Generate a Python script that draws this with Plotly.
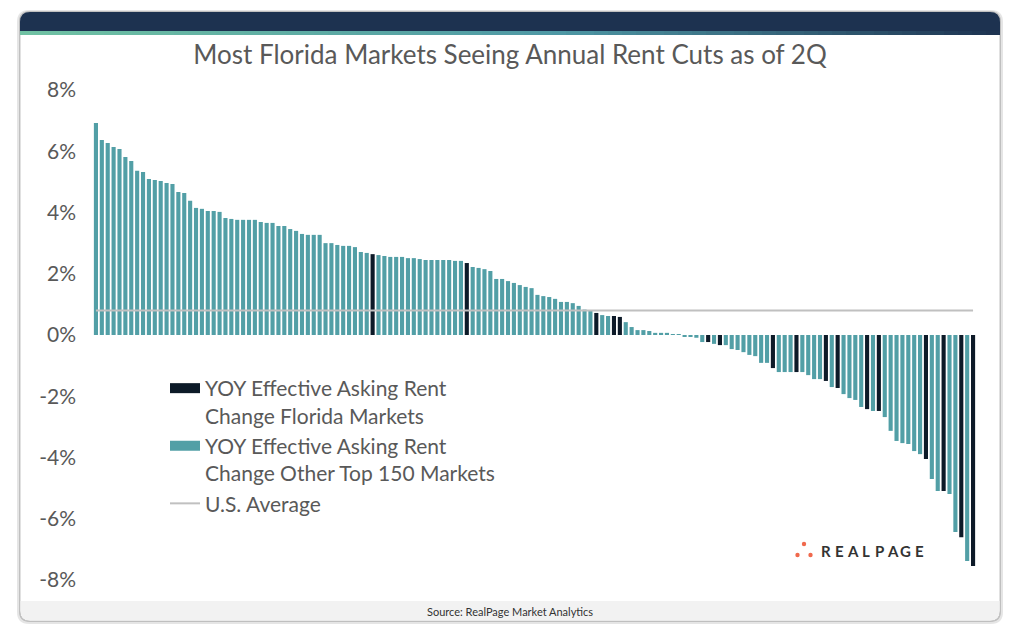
import plotly.graph_objects as go

# ---------------- data ----------------
rent_change = [
    6.92, 6.37, 6.27, 6.14, 6.07, 5.81, 5.68, 5.36, 5.32, 5.09,
    5.06, 5.03, 4.96, 4.93, 4.67, 4.64, 4.38, 4.15, 4.12, 4.05,
    4.05, 4.02, 3.82, 3.79, 3.76, 3.76, 3.76, 3.76, 3.69, 3.66,
    3.66, 3.56, 3.56, 3.46, 3.40, 3.30, 3.27, 3.27, 3.27, 3.00,
    3.00, 2.94, 2.91, 2.91, 2.87, 2.71, 2.68, 2.64, 2.61, 2.58,
    2.55, 2.55, 2.55, 2.51, 2.51, 2.48, 2.45, 2.45, 2.45, 2.45,
    2.45, 2.42, 2.42, 2.35, 2.22, 2.19, 2.15, 2.09, 1.83, 1.83,
    1.76, 1.70, 1.63, 1.57, 1.53, 1.31, 1.27, 1.24, 1.18, 1.08,
    1.08, 1.04, 0.95, 0.83, 0.80, 0.72, 0.65, 0.62, 0.62, 0.59,
    0.42, 0.26, 0.16, 0.16, 0.13, 0.07, 0.07, 0.07, 0.03, 0.03,
    -0.05, -0.05, -0.09, -0.23, -0.23, -0.29, -0.33, -0.33, -0.46, -0.49,
    -0.56, -0.65, -0.69, -0.91, -0.91, -1.08, -1.21, -1.21, -1.21, -1.21,
    -1.21, -1.31, -1.44, -1.44, -1.50, -1.70, -1.73, -1.93, -2.06, -2.12,
    -2.35, -2.42, -2.48, -2.48, -2.68, -3.13, -3.46, -3.53, -3.56, -3.79,
    -3.89, -4.05, -4.70, -5.09, -5.09, -5.19, -6.43, -6.60, -7.38, -7.54,
]
market_rank = list(range(1, len(rent_change) + 1))
florida_ranks = [48, 64, 86, 89, 90, 105, 107, 116, 120, 125, 127, 132, 134, 142, 145, 148, 150]
us_average = 0.8

y_tick_values = [-8, -6, -4, -2, 0, 2, 4, 6, 8]
y_tick_labels = ["-8%", "-6%", "-4%", "-2%", "0%", "2%", "4%", "6%", "8%"]

title_text = "Most Florida Markets Seeing Annual Rent Cuts as of 2Q"
name_florida = "YOY Effective Asking Rent<br>Change Florida Markets"
name_other = "YOY Effective Asking Rent<br>Change Other Top 150 Markets"
name_avg = "U.S. Average"
source_text = "Source: RealPage Market Analytics"
logo_text = "REALPAGE"

# ---------------- styling ----------------
TEAL = "#529fa6"
NAVY = "#0d1a28"
GREY_TXT = "#595959"
FONT = "Lato"

OFF = 8                      # page body margin offset
PAGE_W, PAGE_H = 1020, 633
W, H = PAGE_W - OFF, PAGE_H - OFF
L, R, T, B = 93, 976, 90, 580   # plot area in page pixels


def X(p):
    return (p - L) / (R - L)


def Y(p):
    return (B - p) / (B - T)


def pt(x, y):
    return f"{X(x):.5f},{Y(y):.5f}"


def rounded_path(x0, y0, x1, y1, rt, rb):
    return (
        f"M{pt(x0 + rt, y0)} L{pt(x1 - rt, y0)} Q{pt(x1, y0)} {pt(x1, y0 + rt)} "
        f"L{pt(x1, y1 - rb)} Q{pt(x1, y1)} {pt(x1 - rb, y1)} "
        f"L{pt(x0 + rb, y1)} Q{pt(x0, y1)} {pt(x0, y1 - rb)} "
        f"L{pt(x0, y0 + rt)} Q{pt(x0, y0)} {pt(x0 + rt, y0)} Z"
    )


fl_set = set(florida_ranks)
fl_y = [v if r in fl_set else None for r, v in zip(market_rank, rent_change)]
ot_y = [None if r in fl_set else v for r, v in zip(market_rank, rent_change)]

fig = go.Figure()
fig.add_trace(go.Bar(x=market_rank, y=fl_y, name=name_florida, legendgroup="fl",
                     showlegend=False, marker=dict(color=NAVY, line=dict(width=0))))
fig.add_trace(go.Bar(x=market_rank, y=ot_y, name=name_other, legendgroup="ot",
                     showlegend=False, marker=dict(color=TEAL, line=dict(width=0))))
fig.add_trace(go.Scatter(x=[market_rank[0], market_rank[-1]], y=[us_average, us_average],
                         mode="lines", name=name_avg, showlegend=False, legendgroup="avg",
                         line=dict(color="#c0c0c0", width=2)))
# legend entries (wide swatches like the original)
fig.add_trace(go.Scatter(x=[None], y=[None], mode="lines", name=name_florida,
                         legendgroup="fl", line=dict(color=NAVY, width=10)))
fig.add_trace(go.Scatter(x=[None], y=[None], mode="lines", name=name_other,
                         legendgroup="ot", line=dict(color=TEAL, width=10)))
fig.add_trace(go.Scatter(x=[None], y=[None], mode="lines", name=name_avg,
                         legendgroup="avg", line=dict(color="#c0c0c0", width=2)))

shapes = []
# card shadow + card
shapes.append(dict(type="path", xref="paper", yref="paper", layer="below",
                   path=rounded_path(17, 10, 1003, 624, 12, 12),
                   fillcolor="rgba(0,0,0,0.10)", line=dict(width=0)))
shapes.append(dict(type="path", xref="paper", yref="paper", layer="below",
                   path=rounded_path(19, 11, 1001, 622, 11, 11),
                   fillcolor="rgba(0,0,0,0.18)", line=dict(width=0)))
shapes.append(dict(type="path", xref="paper", yref="paper", layer="below",
                   path=rounded_path(20, 12, 1000, 621, 10, 10),
                   fillcolor="white", line=dict(color="#c4c4c4", width=1)))
# header band
shapes.append(dict(type="path", xref="paper", yref="paper", layer="below",
                   path=rounded_path(20, 12, 1000, 31, 10, 0),
                   fillcolor="#1d3250", line=dict(width=0)))


def lerp(c1, c2, t):
    return tuple(round(a + (b - a) * t) for a, b in zip(c1, c2))


stops = [(0.0, (112, 194, 163)), (0.55, (78, 152, 165)), (1.0, (29, 50, 80))]
nseg = 70
x_start, x_end = 20, 1000
for i in range(nseg):
    t = (i + 0.5) / nseg
    col = stops[-1][1]
    for j in range(len(stops) - 1):
        if stops[j][0] <= t <= stops[j + 1][0]:
            tt = (t - stops[j][0]) / (stops[j + 1][0] - stops[j][0])
            col = lerp(stops[j][1], stops[j + 1][1], tt)
            break
    xa = x_start + (x_end - x_start) * i / nseg
    xb = x_start + (x_end - x_start) * (i + 1) / nseg + 0.6
    shapes.append(dict(type="rect", xref="paper", yref="paper", layer="below",
                       x0=X(xa), x1=X(min(xb, x_end)), y0=Y(35), y1=Y(31),
                       fillcolor="rgb(%d,%d,%d)" % col, line=dict(width=0)))
# source band
shapes.append(dict(type="path", xref="paper", yref="paper", layer="below",
                   path=rounded_path(20.5, 601, 999.5, 620.5, 0, 10),
                   fillcolor="#f2f2f2", line=dict(width=0)))
# logo dots
for cx, cy in [(804, 544), (797.5, 555), (810.5, 555)]:
    shapes.append(dict(type="circle", xref="paper", yref="paper", layer="above",
                       x0=X(cx - 2.2), x1=X(cx + 2.2), y0=Y(cy + 2.2), y1=Y(cy - 2.2),
                       fillcolor="#f0694d", line=dict(width=0)))

annotations = [
    dict(text=source_text, xref="paper", yref="paper", x=X(510), y=Y(611),
         showarrow=False, font=dict(family=FONT, size=11, color="#333333"),
         xanchor="center", yanchor="middle"),
]
for i, ch in enumerate(logo_text):
    annotations.append(dict(text="<b>" + ch + "</b>", xref="paper", yref="paper",
                            x=X(826 + i * 13.3), y=Y(551), showarrow=False,
                            xanchor="center", yanchor="middle",
                            font=dict(family=FONT, size=15, color="#333333")))

fig.update_layout(
    width=W, height=H,
    margin=dict(l=L - OFF, r=PAGE_W - R, t=T - OFF, b=PAGE_H - B, pad=0),
    paper_bgcolor="white",
    plot_bgcolor="rgba(0,0,0,0)",
    barmode="relative",
    bargap=0.3,
    title=dict(text=title_text, x=X(510), xref="paper", xanchor="center",
               y=1 - (55 - OFF) / H, yref="container", yanchor="middle",
               font=dict(family=FONT, size=26, color=GREY_TXT)),
    xaxis=dict(range=[0.5, len(rent_change) + 0.5], showticklabels=False, showgrid=False,
               zeroline=False, showline=False, ticks=""),
    yaxis=dict(range=[-8, 8], tickvals=y_tick_values, ticktext=y_tick_labels,
               showgrid=False, zeroline=False, showline=False, ticks="",
               ticklabelstandoff=16,
               tickfont=dict(family=FONT, size=21, color=GREY_TXT)),
    legend=dict(x=X(165), y=Y(368), xanchor="left", yanchor="top",
                bgcolor="rgba(0,0,0,0)", valign="top", itemwidth=30,
                font=dict(family=FONT, size=21, color=GREY_TXT),
                traceorder="normal", tracegroupgap=0),
    shapes=shapes,
    annotations=annotations,
)

fig.write_html("out.html")
